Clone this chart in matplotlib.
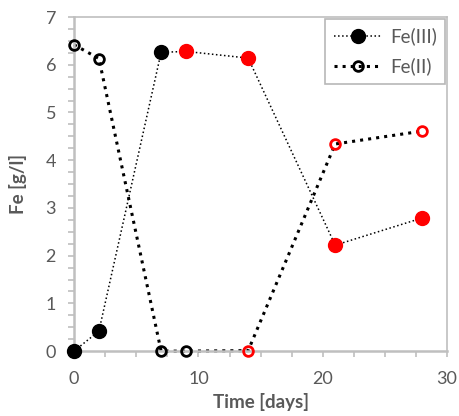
import matplotlib
matplotlib.use("Agg")
import matplotlib.pyplot as plt
from matplotlib.lines import Line2D
from matplotlib.ticker import MultipleLocator

plt.rcParams['font.family'] = ['Lato', 'DejaVu Sans']

# data
days = [0, 2, 7, 9, 14, 21, 28]
fe3 = [0.0, 0.42, 6.26, 6.28, 6.14, 2.22, 2.79]
fe2 = [6.42, 6.13, 0.0, 0.0, 0.01, 4.34, 4.61]
# marker colour per point (black = first phase, red = second)
fe3_cols = ['black', 'black', 'black', 'red', 'red', 'red', 'red']
fe2_cols = ['black', 'black', 'black', 'black', 'red', 'red', 'red']

grey = '#595959'
spine = '#bfbfbf'

fig = plt.figure(figsize=(4.6, 4.16), dpi=100)
ax = fig.add_axes([0.161, 0.156, 0.811, 0.803])

ax.plot(days, fe3, color='black', ls=':', lw=1.1, zorder=2, clip_on=False)
ax.plot(days, fe2, color='black', ls=':', lw=2.2, zorder=2, clip_on=False)
for x, y, c in zip(days, fe3, fe3_cols):
    ax.plot(x, y, 'o', ms=10, mfc=c, mec=c, zorder=3, clip_on=False)
for x, y, c in zip(days, fe2, fe2_cols):
    ax.plot(x, y, 'o', ms=7, mfc='none', mec=c, mew=2, zorder=3, clip_on=False)

ax.set_xlim(0, 30)
ax.set_ylim(0, 7)
ax.xaxis.set_major_locator(MultipleLocator(10))
ax.xaxis.set_minor_locator(MultipleLocator(2.5))
ax.yaxis.set_major_locator(MultipleLocator(1))
ax.yaxis.set_minor_locator(MultipleLocator(0.25))
ax.tick_params(which='both', direction='out', length=4, width=1.2,
               color=spine, labelcolor=grey, labelsize=13)
ax.tick_params(axis='x', pad=10)
ax.tick_params(axis='y', pad=9)
for s in ax.spines.values():
    s.set_color(spine)
    s.set_linewidth(1.2)
for s in ['left', 'bottom']:
    ax.spines[s].set_linewidth(1.8)

ax.set_xlabel('Time [days]', fontsize=13.5, fontweight='bold', color=grey,
              labelpad=5)
ax.set_ylabel('Fe [g/l]', fontsize=13.5, fontweight='bold', color=grey,
              labelpad=13)

handles = [
    Line2D([], [], color='black', ls=':', lw=1.1, marker='o', ms=10),
    Line2D([], [], color='black', ls=':', lw=2.2, marker='o', ms=7,
           mfc='none', mew=2),
]
leg = ax.legend(handles, ['Fe(III)', 'Fe(II)'], loc='upper right',
                fancybox=False, edgecolor='#a6a6a6', fontsize=13.5,
                labelcolor=grey, handlelength=2.6, handletextpad=0.4,
                borderaxespad=0.1, labelspacing=0.65, borderpad=0.45)
leg.get_frame().set_linewidth(1.2)

fig.savefig('out.png', dpi=100)
